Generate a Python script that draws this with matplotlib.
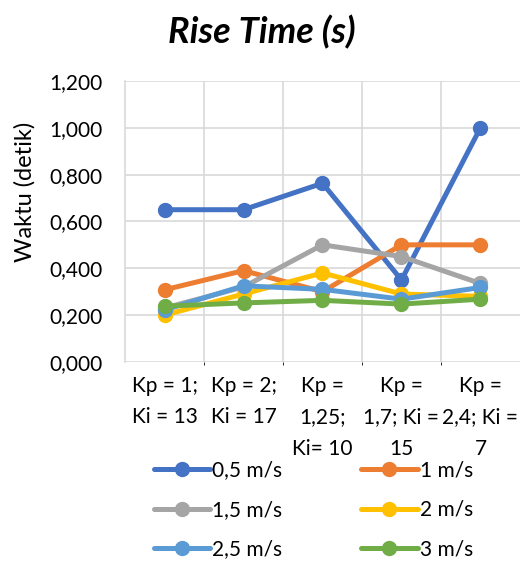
import matplotlib.pyplot as plt
from matplotlib.ticker import FuncFormatter

plt.rcParams['font.family'] = ['Lato', 'DejaVu Sans']

categories = ["Kp = 1;\nKi = 13", "Kp = 2;\nKi = 17", "Kp =\n1,25;\nKi= 10",
              "Kp =\n1,7; Ki =\n15", "Kp =\n2,4; Ki =\n7"]
series_names = ["0,5 m/s", "1 m/s", "1,5 m/s", "2 m/s", "2,5 m/s", "3 m/s"]
v_05 = [0.650, 0.650, 0.763, 0.350, 1.000]
v_1 = [0.308, 0.390, 0.300, 0.500, 0.500]
v_15 = [0.230, 0.320, 0.500, 0.450, 0.335]
v_2 = [0.200, 0.290, 0.380, 0.290, 0.280]
v_25 = [0.222, 0.325, 0.310, 0.268, 0.318]
v_3 = [0.238, 0.252, 0.263, 0.247, 0.268]
colors = ["#4472C4", "#ED7D31", "#A5A5A5", "#FFC000", "#5B9BD5", "#70AD47"]

FS = 15

fig = plt.figure(figsize=(5.21, 5.62), dpi=100)
ax = fig.add_axes([0.24, 0.356, 0.758, 0.5])

x = list(range(len(categories)))
for vals, name, c in zip([v_05, v_1, v_15, v_2, v_25, v_3], series_names, colors):
    ax.plot(x, vals, color=c, lw=3.6, marker='o', ms=10, label=name,
            solid_capstyle='round')

ax.set_xlim(-0.5, len(categories) - 0.5)
ax.set_ylim(0, 1.2)
ax.set_yticks([0, 0.2, 0.4, 0.6, 0.8, 1.0, 1.2])
ax.yaxis.set_major_formatter(FuncFormatter(lambda v, p: f"{v:.3f}".replace('.', ',')))
ax.set_xticks(x)
ax.set_xticklabels(categories, fontsize=FS, linespacing=1.72, va='top')
ax.set_xticks([i + 0.5 for i in x[:-1]], minor=True)
ax.tick_params(axis='both', length=0, labelsize=FS, colors='#000000')
ax.tick_params(axis='x', pad=10)
ax.tick_params(axis='y', pad=16)
ax.grid(True, axis='y', color='#D9D9D9', lw=1.2)
ax.grid(True, axis='x', which='minor', color='#D9D9D9', lw=1.2)
ax.set_axisbelow(True)
for s in ['top', 'right', 'bottom']:
    ax.spines[s].set_visible(False)
ax.spines['left'].set_color('#D9D9D9')
ax.spines['left'].set_linewidth(1.2)

fig.text(25 / 521, 0.658, "Waktu (detik)", rotation=90, ha='center', va='center',
         fontsize=17)
fig.text(0.503, 0.943, "Rise Time (s)", ha='center', va='center',
         fontsize=26, fontweight='bold', fontstyle='italic')

handles, labels = ax.get_legend_handles_labels()
order = [0, 2, 4, 1, 3, 5]
fig.legend([handles[i] for i in order], [labels[i] for i in order],
           ncol=2, loc='upper left', bbox_to_anchor=(0.295, 0.181), frameon=False,
           fontsize=FS, handlelength=2.7, handletextpad=0.1,
           columnspacing=3.8, labelspacing=0.94, borderaxespad=0, borderpad=0)

fig.savefig("out.png", dpi=100)
